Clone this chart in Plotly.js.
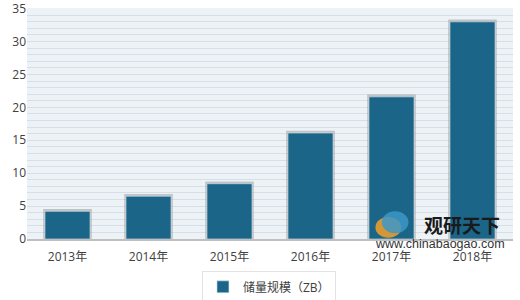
<!DOCTYPE html>
<html>
<head>
<meta charset="utf-8">
<script src="https://cdn.plot.ly/plotly-3.0.1.min.js"></script>
<style>html,body{margin:0;padding:0;background:#fff;}#chart{width:520px;height:300px;}</style>
</head>
<body>
<div id="chart"></div>
<script>
const years = ["2013年", "2014年", "2015年", "2016年", "2017年", "2018年"];
const reserves = [4.2, 6.5, 8.4, 16.1, 21.6, 33.0];
const seriesName = "储量规模（ZB）";
const yTicks = [0, 5, 10, 15, 20, 25, 30, 35];

const FONT = "Open Sans, Noto Sans CJK SC, sans-serif";

const shadow = {
  type: "bar",
  x: years,
  y: reserves.map(v => v + 0.35),
  width: 0.6,
  marker: {color: "rgba(140,140,140,0.45)", line: {width: 0}},
  showlegend: false,
  hoverinfo: "skip"
};
const main = {
  type: "bar",
  x: years,
  y: reserves,
  name: seriesName,
  width: 0.556,
  marker: {color: "#1b6688", line: {color: "#d9e4ec", width: 0.6}}
};

const layout = {
  width: 520, height: 300,
  margin: {l: 27, r: 7, t: 8, b: 61, autoexpand: false},
  paper_bgcolor: "#ffffff",
  plot_bgcolor: "#edf2f6",
  barmode: "overlay",
  font: {family: FONT, size: 12, color: "#404040"},
  xaxis: {
    type: "category",
    showgrid: false,
    showline: true, linecolor: "#bfbfbf", linewidth: 1.5,
    ticks: "", ticklabelstandoff: 6,
    tickfont: {size: 12, color: "#404040"},
    fixedrange: true
  },
  yaxis: {
    range: [0, 35.1],
    tickvals: yTicks,
    ticktext: yTicks.map(String),
    ticks: "",
    ticklabeloverflow: "allow",
    showline: false,
    zeroline: false,
    gridcolor: "#d6dfe7", gridwidth: 1,
    minor: {dtick: 1, showgrid: true, gridcolor: "#d6dfe7", gridwidth: 1},
    tickfont: {size: 12, color: "#404040", family: "Open Sans"},
    fixedrange: true
  },
  showlegend: true,
  legend: {
    orientation: "h",
    x: 0.36, xanchor: "left", xref: "paper",
    y: -0.14, yanchor: "top",
    bgcolor: "#ffffff", bordercolor: "#e3e3e3", borderwidth: 1,
    itemwidth: 30,
    font: {size: 12, color: "#404040"}
  },
  annotations: [
    {xref: "paper", yref: "paper", x: 0.895, y: 0.062, xanchor: "center", yanchor: "middle",
     text: "<b>观研天下</b>", showarrow: false, font: {size: 19, color: "#1a1a1a", family: "Noto Sans CJK SC"}},
    {xref: "paper", yref: "paper", x: 0.85, y: -0.022, xanchor: "center", yanchor: "middle",
     text: "www.chinabaogao.com", showarrow: false, font: {size: 12.5, color: "#333333", family: "Liberation Sans"}}
  ],
  shapes: [
    {type: "circle", xref: "paper", yref: "paper", x0: 0.717, x1: 0.77, y0: 0.005, y1: 0.095,
     fillcolor: "rgba(245,160,40,0.85)", line: {width: 0}},
    {type: "circle", xref: "paper", yref: "paper", x0: 0.73, x1: 0.785, y0: 0.025, y1: 0.12,
     fillcolor: "rgba(60,150,200,0.85)", line: {width: 0}}
  ]
};

Plotly.newPlot("chart", [shadow, main], layout, {displayModeBar: false, staticPlot: true});
</script>
</body>
</html>
